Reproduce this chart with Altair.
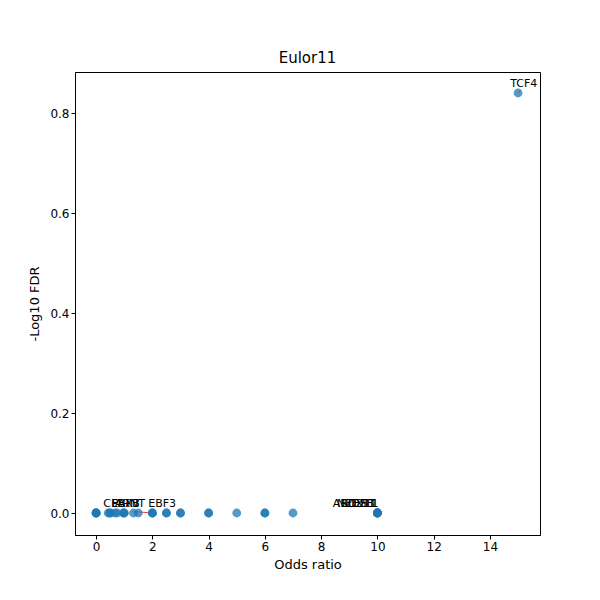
import altair as alt
import pandas as pd

# Points (odds ratio, -log10 FDR)
odds = [0, 0, 0, 0, 0.43, 0.5, 0.5, 0.67, 0.75, 0.96, 1.0, 1.0, 1.33, 1.5,
        2.0, 2.0, 2.0, 2.5, 2.5, 3.0, 3.0, 4.0, 4.0, 5.0, 6.0, 6.0, 7.0,
        10, 10, 10, 10, 10, 10, 15]
neglogfdr = [0.0] * 33 + [0.84]

# Labels (text and label position in data units)
lab_text = ["CEBPB", "PAX3", "ARNT", "EBF3", "ARID5B", "NFE2L1", "SOX11", "ZEB1", "TCF4"]
lab_x = [0.9, 1.05, 1.2, 2.35, 9.15, 9.3, 9.35, 9.4, 15.2]
lab_y = [0.008, 0.008, 0.008, 0.008, 0.008, 0.008, 0.008, 0.008, 0.848]

# Connector lines (label -> point), data units
arr_x1 = [1.33, 15.1]
arr_y1 = [0.003, 0.846]
arr_x2 = [2.0, 15.0]
arr_y2 = [0.0, 0.84]

pts = pd.DataFrame({"odds": odds, "fdr": neglogfdr})
labs = pd.DataFrame({"text": lab_text, "lx": lab_x, "ly": lab_y})
arrs = pd.DataFrame({"x1": arr_x1, "y1": arr_y1, "x2": arr_x2, "y2": arr_y2})

xs = alt.Scale(domain=[-0.75, 15.78], nice=False, zero=False)
ys = alt.Scale(domain=[-0.044, 0.882], nice=False, zero=False)

xax = alt.Axis(values=[0, 2, 4, 6, 8, 10, 12, 14], title="Odds ratio", grid=False,
               domainColor="black", tickColor="black", tickSize=4,
               labelFontSize=12, titleFontSize=13, labelColor="black",
               titleColor="black", titleFontWeight="normal", titlePadding=6,
               labelFont="DejaVu Sans", titleFont="DejaVu Sans")
yax = alt.Axis(values=[0, 0.2, 0.4, 0.6, 0.8], format=".1f", title="-Log10 FDR",
               grid=False, domainColor="black", tickColor="black", tickSize=4,
               labelFontSize=12, titleFontSize=13, labelColor="black",
               titleColor="black", titleFontWeight="normal", titlePadding=8,
               labelFont="DejaVu Sans", titleFont="DejaVu Sans")

arrows = alt.Chart(arrs).mark_rule(color="red", strokeWidth=0.8).encode(
    x=alt.X("x1:Q", scale=xs, axis=xax),
    y=alt.Y("y1:Q", scale=ys, axis=yax),
    x2="x2:Q", y2="y2:Q")

points = alt.Chart(pts).mark_circle(size=78, color="#1f77b4", opacity=0.75).encode(
    x=alt.X("odds:Q", scale=xs, axis=xax),
    y=alt.Y("fdr:Q", scale=ys, axis=yax))

texts = alt.Chart(labs).mark_text(fontSize=11, baseline="bottom", align="center",
                                  color="black", font="DejaVu Sans").encode(
    x=alt.X("lx:Q", scale=xs, axis=xax),
    y=alt.Y("ly:Q", scale=ys, axis=yax),
    text="text:N")

chart = alt.layer(arrows, points, texts).properties(
    width=465, height=463,
    title=alt.TitleParams("Eulor11", fontSize=15, fontWeight="normal",
                          font="DejaVu Sans", color="black", offset=6),
    autosize=alt.AutoSizeParams(type="none"),
    padding={"left": 67, "top": 64, "right": 52, "bottom": 57},
).configure_view(stroke="black", strokeWidth=1)

chart.save("out.html", embed_options={"renderer": "svg", "actions": False})
